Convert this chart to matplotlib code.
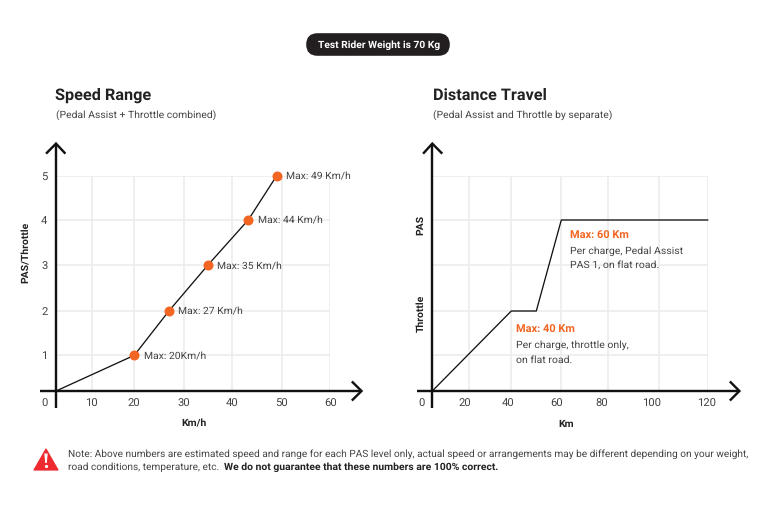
import numpy as np
import matplotlib
matplotlib.use("Agg")
import matplotlib.pyplot as plt
from matplotlib.patches import FancyBboxPatch, Polygon
from matplotlib.transforms import ScaledTranslation

plt.rcParams['font.family'] = ['Roboto', 'DejaVu Sans']
plt.rcParams['text.hinting'] = 'no_hinting'

W, H = 775, 517
# ---- data
speed_x = [0, 20, 27, 35, 43.3, 49]
speed_y = [0, 1, 2, 3, 4, 5]
speed_labels = ["Max: 20Km/h", "Max: 27 Km/h", "Max: 35 Km/h", "Max: 44 Km/h", "Max: 49 Km/h"]
speed_xticks = [10, 20, 30, 40, 50, 60]
level_ticks = [1, 2, 3, 4, 5]
dist_x = [0, 40, 50, 60, 120]
dist_y = [0, 2, 2, 4, 4]
dist_xticks = [20, 40, 60, 80, 100, 120]

# printed scales are uneven in the source, these are where each tick sits (px)
speed_scale_vals = [0, 10, 20, 30, 40, 50, 60]
speed_scale_px = [56, 91.7, 134.3, 183.7, 231.7, 281.7, 330.3]
dist_scale_vals = [0, 20, 40, 60, 80, 100, 120]
dist_scale_px = [432.3, 468.7, 511.3, 561.3, 608.3, 659.3, 707.7]
level_vals = [0, 1, 2, 3, 4, 5]
level_px = [0, 35.7, 80, 125.7, 171, 215.3]

GRID = '#ececec'; TXT = '#444444'; DARK = '#222222'; ORANGE = '#f26522'
px = 0.72
TICK = 11.2

fig = plt.figure(figsize=(W / 100, H / 100), dpi=100)

def make_axes(xv, xp):
    l, r = xp[0], xp[-1]
    top, bottom = 391 - level_px[-1], 391
    ax = fig.add_axes([l / W, 1 - bottom / H, (r - l) / W, (bottom - top) / H])
    ax.set_xscale('function', functions=(lambda v: np.interp(v, xv, xp),
                                         lambda p: np.interp(p, xp, xv)))
    ax.set_yscale('function', functions=(lambda v: np.interp(v, level_vals, level_px),
                                         lambda p: np.interp(p, level_px, level_vals)))
    ax.set_xlim(xv[0], xv[-1]); ax.set_ylim(0, 5)
    for s in ax.spines.values():
        s.set_visible(False)
    ax.grid(True, color=GRID, lw=1.6 * px, zorder=0)
    ax.set_axisbelow(True)
    ax.minorticks_off()
    return ax

# ---- left chart
a1 = make_axes(speed_scale_vals, speed_scale_px)
a1.set_xticks(speed_xticks); a1.set_yticks(level_ticks)
a1.tick_params(axis='x', length=0, pad=7.5 * px, labelsize=TICK * px, labelcolor=TXT)
a1.tick_params(axis='y', length=0, pad=8.5 * px, labelsize=TICK * px, labelcolor=TXT)
a1.plot(speed_x, speed_y, color='#111111', lw=1.3 * px, zorder=3, clip_on=False)
a1.plot(speed_x[1:], speed_y[1:], 'o', color=ORANGE, ms=10 * px, mew=0, zorder=4, clip_on=False)
for x, y, t in zip(speed_x[1:], speed_y[1:], speed_labels):
    a1.annotate(t, (x, y), xytext=(9.5 * px, -1 * px), textcoords='offset points', va='center', ha='left',
                fontsize=10.4 * px, color=TXT, zorder=5, annotation_clip=False)

# ---- right chart
a2 = make_axes(dist_scale_vals, dist_scale_px)
a2.set_xticks(dist_xticks); a2.set_yticks(level_ticks)
a2.tick_params(axis='x', length=0, pad=7.5 * px, labelsize=TICK * px, labelcolor=TXT)
a2.tick_params(axis='y', length=0, labelleft=False)
a2.plot(dist_x, dist_y, color='#111111', lw=1.3 * px, zorder=3, clip_on=False)
shifts = [-3.7, -3.3, -4.3, -6.3, -7.3, -1]
for lab, s in zip(a2.get_xticklabels(), shifts):
    lab.set_transform(lab.get_transform() + ScaledTranslation(s / 100, 0, fig.dpi_scale_trans))

# ---- overlay in pixel coordinates
ov = fig.add_axes([0, 0, 1, 1], facecolor='none')
ov.set_xlim(0, W); ov.set_ylim(H, 0); ov.axis('off')

def arrow(x0, y0, x1, y1, head):
    ov.plot([x0, x1], [y0, y1], color='#111111', lw=2.4 * px, solid_capstyle='butt', zorder=6)
    ov.plot(*zip(*head), color='#111111', lw=2.4 * px, solid_joinstyle='miter', zorder=6)

arrow(39.5, 391, 361, 391, [(352.7, 382.3), (361.5, 391), (352.7, 399.7)])
arrow(56, 408, 56, 144, [(46.9, 152.8), (56, 143.6), (64.6, 152.8)])
arrow(416.7, 391, 739, 391, [(730.7, 382.3), (739.4, 391), (730.7, 399.7)])
arrow(432.3, 408, 432.3, 144, [(423.9, 152.8), (432.3, 143.6), (441.4, 152.8)])

def T(x, y, s, size, color=TXT, weight='normal', ha='left', va='center', rot=0):
    return ov.text(x, y, s, fontsize=size * px, color=color, fontweight=weight,
                   ha=ha, va=va, rotation=rot, zorder=7)

T(45, 403.5, '0', TICK, ha='center')
T(422, 403.5, '0', TICK, ha='center')

# pill
pill = FancyBboxPatch((317.5, 44.5), 121, 0, boxstyle='round,pad=11.3,rounding_size=11.3',
                      fc='#231f20', ec='none', zorder=5)
ov.add_patch(pill)
T(379.5, 45, 'Test Rider Weight is 70 Kg', 10.3, color='white', weight='bold', ha='center')

# titles
T(55, 95.5, 'Speed Range', 16.3, color=DARK, weight='bold')
T(55.5, 114.5, '(Pedal Assist + Throttle combined)', 10.4, color=TXT)
T(433, 95.5, 'Distance Travel', 16.3, color=DARK, weight='bold')
T(433, 114.5, '(Pedal Assist and Throttle by separate)', 10.4, color=TXT)

# axis labels
T(194, 424, 'Km/h', 10.4, color=DARK, weight='bold', ha='center')
T(26, 252.5, 'PAS/Throttle', 10.4, color=DARK, weight='bold', ha='center', rot=90)
T(566, 424, 'Km', 10.4, color=DARK, weight='bold', ha='center')
T(421, 224.5, 'PAS', 10.4, color=DARK, weight='bold', ha='center', rot=90)
T(421, 313.5, 'Throttle', 10.4, color=DARK, weight='bold', ha='center', rot=90)

# distance notes
T(570.3, 236, 'Max: 60 Km', 11, color=ORANGE, weight='bold')
T(570.3, 251, 'Per charge, Pedal Assist', 10.45, color=TXT)
T(570.3, 265.5, 'PAS 1, on flat road.', 10.45, color=TXT)
T(516.3, 330, 'Max: 40 Km', 11, color=ORANGE, weight='bold')
T(516.3, 345.5, 'Per charge, throttle only,', 10.45, color=TXT)
T(516.3, 360, 'on flat road.', 10.45, color=TXT)

# warning
ov.add_patch(Polygon([(46, 449), (58, 470), (34, 470)], closed=True, fc='#ee2a2e', ec='#ee2a2e',
                     lw=1.2 * px, joinstyle='round', zorder=5))
ov.add_patch(Polygon([(44.3, 453.5), (47.7, 453.5), (46.8, 463), (45.2, 463)], closed=True, fc='white', ec='none', zorder=6))
ov.plot([46], [466.2], 'o', color='white', ms=3.2 * px, mew=0, zorder=6)

T(68, 454.5, 'Note: Above numbers are estimated speed and range for each PAS level only, actual speed or arrangements may be different depending on your weight,', 10.17)
T(68, 467.5, 'road conditions, temperature, etc.', 10.17)
T(223.5, 467.5, 'We do not guarantee that these numbers are 100% correct.', 10.33, color=DARK, weight='bold')

fig.savefig('out.png', dpi=100)
